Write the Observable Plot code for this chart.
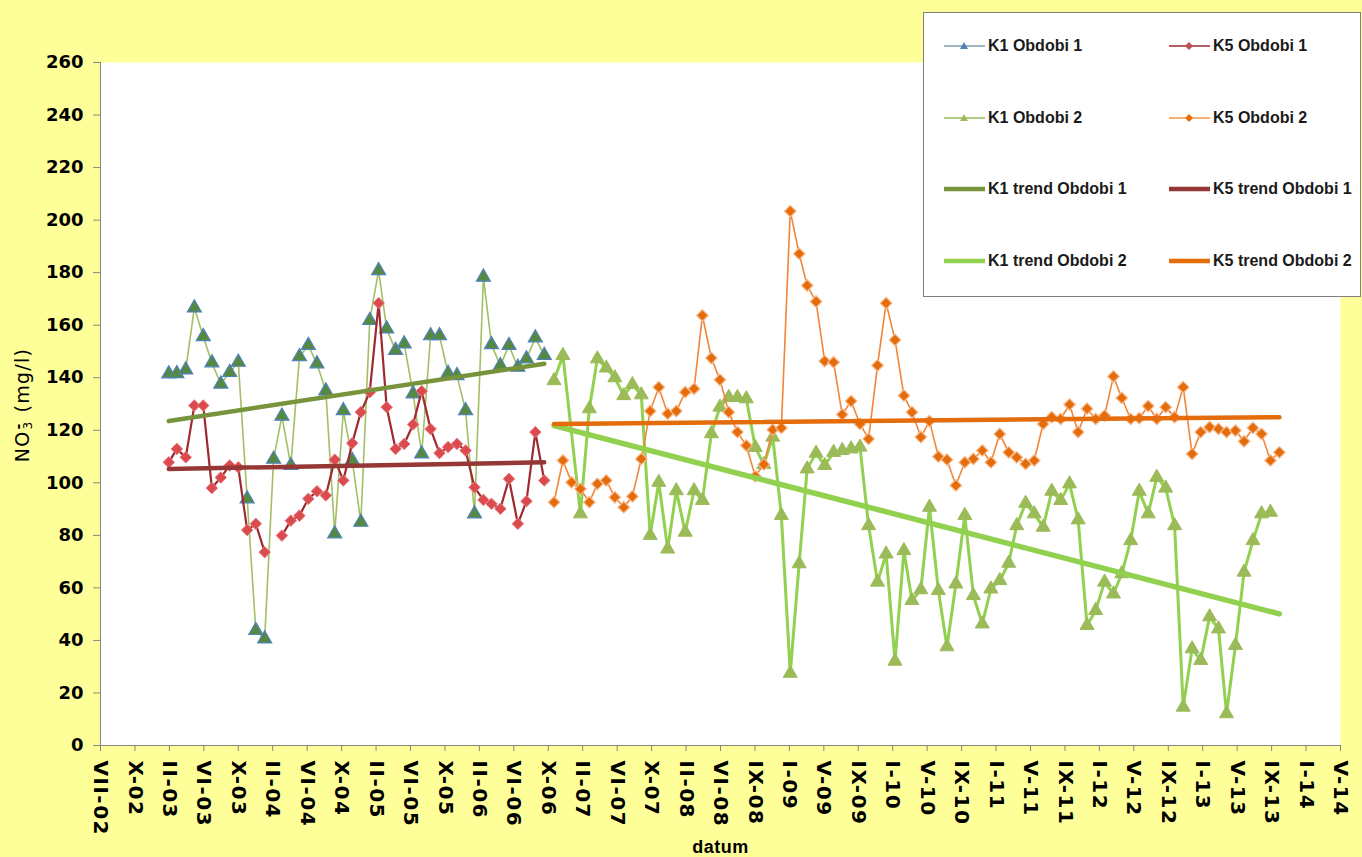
<!DOCTYPE html>
<html>
<head>
<meta charset="utf-8">
<script src="https://cdn.jsdelivr.net/npm/d3@7"></script>
<script src="https://cdn.jsdelivr.net/npm/@observablehq/plot@0.6"></script>
<style>
  html, body { margin: 0; padding: 0; background: #FFFF99; }
  #wrap { position: relative; width: 1362px; height: 857px; overflow: hidden; }
  #chart svg { display: block; }
  #chart svg g[aria-label="y-axis tick label"], #chart svg g[aria-label="y-axis tick label"] text { font: bold 18px "DejaVu Sans", sans-serif !important; fill: #000 !important; }
  #chart svg g[aria-label="x-axis tick label"], #chart svg g[aria-label="x-axis tick label"] text { font: bold 20px "DejaVu Sans", sans-serif !important; letter-spacing: 1.5px; fill: #000 !important; }
  #chart svg g[aria-label="x-axis label"], #chart svg g[aria-label="x-axis label"] text { font: bold 18px "Liberation Sans", sans-serif !important; letter-spacing: 0.5px; fill: #000 !important; }
  #ylabel { position: absolute; left: 22px; top: 405px; transform: translate(-50%, -50%) rotate(-90deg);
            font: 19px "DejaVu Sans", sans-serif; letter-spacing: 1.3px; white-space: nowrap; color: #000; }
  #ylabel .ss { display: inline-flex; flex-direction: column; align-items: flex-start; font-size: 12px; line-height: 10px; vertical-align: middle; letter-spacing: 0; margin: 0 2px 0 1px; }
  #ylabel .ss b { font-weight: bold; font-size: 14px; line-height: 9px; }
  #legend { position: absolute; left: 923px; top: 12px; width: 438px; height: 285px; box-sizing: border-box;
            background: #fff; border: 1px solid #7f7f7f; font: bold 16px "Liberation Sans", Arial, sans-serif; color: #1a1a1a; }
  .item { position: absolute; display: flex; align-items: center; height: 20px; white-space: nowrap; }
  .item svg { display: block; margin-right: 3px; }
</style>
</head>
<body>
<div id="wrap">
  <div id="chart"></div>
  <div id="ylabel">NO<span class="ss"><b>-</b><span>3</span></span> (mg/l)</div>
  <div id="legend"></div>
</div>
<script>
// ---------- data ----------
const tickLabels = ["VII-02","X-02","II-03","VI-03","X-03","II-04","VI-04","X-04","II-05","VI-05","X-05","II-06","VI-06","X-06","II-07","VI-07","X-07","II-08","VI-08","IX-08","I-09","V-09","IX-09","I-10","V-10","IX-10","I-11","V-11","IX-11","I-12","V-12","IX-12","I-13","V-13","IX-13","I-14","V-14"];
const axisStart = "2002-07-01";
const tickStepDays = 120;
const yTickValues = [0, 20, 40, 60, 80, 100, 120, 140, 160, 180, 200, 220, 240, 260];

const period1Start = "2003-02-24";   // monthly samples
const period2Start = "2006-10-28";   // monthly samples

const k1Obdobi1 = [141.5, 141.6, 143, 166.6, 155.7, 145.7, 137.6, 142, 145.9, 93.9,
  43.8, 40.6, 109, 125.4, 106.6, 148, 152.3, 145.3, 135, 80.6,
  127.5, 108.5, 85, 161.8, 180.8, 158.6, 150.4, 152.9, 133.9, 111,
  156, 156, 141.7, 140.8, 127.5, 88.2, 178.3, 152.6, 144.6, 152.3,
  144, 147.2, 155.2, 148.5];

const k5Obdobi1 = [107.8, 112.9, 109.7, 129.4, 129.4, 98, 102, 106.6, 105.9, 82,
  84.4, 73.6, null, 79.9, 85.6, 87.5, 93.9, 96.8, 95.2, 108.8,
  100.9, 115.1, 126.9, 134.5, 168.4, 128.8, 112.9, 114.8, 122.2, 134.9,
  120.5, 111.3, 113.6, 114.8, 112.3, 98.3, 93.5, 92, 90.1, 101.5,
  84.4, 93, 119.3, 100.9];

const k1Obdobi2 = [138.9, 148.5, null, 88.2, 128.2, 147.2, 143.7, 140, 133.2, 137.4,
  133.5, 80, 100.2, 74.8, 97, 81.2, 97, 93.3, 118.7, 128.8,
  132.5, 132.5, 132, 113.5, 107, 117.4, 87.6, 27.5, 69.2, 105.3,
  111.3, 106.6, 111.6, 112.3, 112.9, 113.6, 83.7, 62.2, 72.9, 32.1,
  74.2, 55.2, 59.3, 90.7, 59, 37.6, 61.5, 87.6, 57.1, 46.3,
  59.6, 62.8, 69.4, 83.7, 92.2, 88.2, 83.1, 96.8, 93.3, 99.6,
  85.9, 45.7, 51.4, 62.2, 57.7, 65.4, 78, 96.8, 88.2, 102.1,
  98, 83.7, 14.6, 36.8, 32.4, 49, 44.4, 12.1, 38.1, 66,
  78, 88.2, 88.8, null];

const k5Obdobi2 = [92.6, 108.5, 100.2, 97.7, 92.6, 99.6, 100.9, 94.5, 90.7, 94.8,
  109.1, 127.3, 136.4, 126.3, 127.3, 134.5, 135.8, 163.7, 147.5, 139.2,
  126.9, 119.3, 114.2, 102.5, 107, 120.2, 120.9, 203.4, 187.2, 175.1,
  169, 146.3, 145.9, 126, 131.1, 122.4, 116.7, 144.7, 168.4, 154.4,
  133.2, 126.9, 117.4, 123.5, 110, 108.8, 99, 107.8, 109.1, 112.3,
  107.8, 118.6, 111.6, 109.7, 107.2, 108.5, 122.4, 125, 124.3, 129.8,
  119.3, 128.2, 124.3, 125.6, 140.5, 132.3, 124.3, 124.6, 129.2, 124.3,
  128.8, 125, 136.4, 111, 119.3, 121.2, 120.5, 119.3, 119.9, 115.8,
  120.9, 118.6, 108.5, 111.6];

// trend lines: value at the first and at the last sample of the period
const k1TrendObdobi1 = [123.5, 145.3];
const k5TrendObdobi1 = [105.3, 107.8];
const k1TrendObdobi2 = [121.8, 50.1];
const k5TrendObdobi2 = [122.4, 125.0];

// ---------- build tables ----------
const t0 = new Date(axisStart);
const tickDates = tickLabels.map((_, i) => d3.utcDay.offset(t0, i * tickStepDays));
const labelByTime = new Map(tickDates.map((d, i) => [+d, tickLabels[i]]));

function series(start, values) {
  const s = new Date(start);
  return values.map((v, i) => ({date: d3.utcMonth.offset(s, i), value: v}));
}
function trend(start, n, ends) {
  const s = new Date(start);
  return [{date: s, value: ends[0]}, {date: d3.utcMonth.offset(s, n - 1), value: ends[1]}];
}
const s1 = series(period1Start, k1Obdobi1);
const s2 = series(period1Start, k5Obdobi1);
const s3 = series(period2Start, k1Obdobi2);
const s4 = series(period2Start, k5Obdobi2);
const tr1 = trend(period1Start, k1Obdobi1.length, k1TrendObdobi1);
const tr2 = trend(period1Start, k5Obdobi1.length, k5TrendObdobi1);
const tr3 = trend(period2Start, k1Obdobi2.length, k1TrendObdobi2);
const tr4 = trend(period2Start, k5Obdobi2.length, k5TrendObdobi2);
const ok = d => d.value != null;

const C = {
  k1o1Line: "#A3BF66", k1o1Fill: "#55893F", k1o1Stroke: "#4F81BD",
  k5o1Line: "#9E2A2F", k5o1Fill: "#DB4A4E", k5o1Stroke: "#E77E80",
  k1o2Line: "#92D050", k1o2Fill: "#9BBB59", k1o2Stroke: "#9BBB59",
  k5o2Line: "#F0863A", k5o2Fill: "#E46C0A", k5o2Stroke: "#F9B88A",
  tr1: "#77933C", tr2: "#953735", tr3: "#92D050", tr4: "#E46C0A"
};

const chart = Plot.plot({
  width: 1362,
  height: 857,
  marginLeft: 100,
  marginRight: 22,
  marginTop: 62,
  marginBottom: 112,
  style: {background: "#FFFF99", overflow: "visible"},
  x: {type: "utc", domain: [tickDates[0], tickDates[tickDates.length - 1]]},
  y: {domain: [0, 260]},
  marks: [
    Plot.frame({fill: "white", stroke: null}),
    Plot.axisY({ticks: yTickValues, tickSize: 7, tickPadding: 10, stroke: "#868686", label: null}),
    Plot.axisX({ticks: tickDates, tickFormat: d => labelByTime.get(+d), tickRotate: 90,
      tickSize: 6, tickPadding: 9, stroke: "#868686", fontSize: 18,
      label: "datum", labelAnchor: "center", labelOffset: 107, labelArrow: "none"}),
    Plot.ruleY([0], {stroke: "#868686"}),
    Plot.ruleX([tickDates[0]], {stroke: "#868686"}),

    Plot.line(s1, {x: "date", y: "value", stroke: C.k1o1Line, strokeWidth: 1.6}),
    Plot.dot(s1.filter(ok), {x: "date", y: "value", symbol: "triangle", r: 5.2, fill: C.k1o1Fill, stroke: C.k1o1Stroke, strokeWidth: 1.2}),
    Plot.line(s2, {x: "date", y: "value", stroke: C.k5o1Line, strokeWidth: 2.2}),
    Plot.dot(s2.filter(ok), {x: "date", y: "value", symbol: "diamond2", r: 5.2, fill: C.k5o1Fill, stroke: C.k5o1Stroke, strokeWidth: 1}),
    Plot.line(s3.filter(ok), {x: "date", y: "value", stroke: C.k1o2Line, strokeWidth: 3}),
    Plot.dot(s3.filter(ok), {x: "date", y: "value", symbol: "triangle", r: 5.2, fill: C.k1o2Fill, stroke: C.k1o2Stroke, strokeWidth: 1}),
    Plot.line(s4, {x: "date", y: "value", stroke: C.k5o2Line, strokeWidth: 1.6}),
    Plot.dot(s4.filter(ok), {x: "date", y: "value", symbol: "diamond2", r: 5.2, fill: C.k5o2Fill, stroke: C.k5o2Stroke, strokeWidth: 1.2}),

    Plot.line(tr1, {x: "date", y: "value", stroke: C.tr1, strokeWidth: 4.5}),
    Plot.line(tr2, {x: "date", y: "value", stroke: C.tr2, strokeWidth: 4.5}),
    Plot.line(tr3, {x: "date", y: "value", stroke: C.tr3, strokeWidth: 5.5}),
    Plot.line(tr4, {x: "date", y: "value", stroke: C.tr4, strokeWidth: 4.5})
  ]
});
document.getElementById("chart").appendChild(chart);

// ---------- legend ----------
const legendItems = [
  {label: "K1 Obdobi 1", col: 0, row: 0, line: "#7F9DB0", w: 1.5, marker: "triangle", mfill: "#4F81BD"},
  {label: "K5 Obdobi 1", col: 1, row: 0, line: "#9E2A2F", w: 1.5, marker: "diamond", mfill: "#C0504D"},
  {label: "K1 Obdobi 2", col: 0, row: 1, line: "#9BBB59", w: 1.5, marker: "triangle", mfill: "#9BBB59"},
  {label: "K5 Obdobi 2", col: 1, row: 1, line: "#F79646", w: 1.5, marker: "diamond", mfill: "#E46C0A"},
  {label: "K1 trend Obdobi 1", col: 0, row: 2, line: C.tr1, w: 4.5},
  {label: "K5 trend Obdobi 1", col: 1, row: 2, line: C.tr2, w: 4.5},
  {label: "K1 trend Obdobi 2", col: 0, row: 3, line: C.tr3, w: 4.5},
  {label: "K5 trend Obdobi 2", col: 1, row: 3, line: C.tr4, w: 4.5}
];
const colX = [20, 245];
const rowY = [23, 95, 166, 238];
const legend = document.getElementById("legend");
for (const it of legendItems) {
  const div = document.createElement("div");
  div.className = "item";
  div.style.left = colX[it.col] + "px";
  div.style.top = rowY[it.row] + "px";
  let mk = "";
  if (it.marker === "triangle") mk = `<path d="M20,6 L24,13 L16,13 Z" fill="${it.mfill}"/>`;
  if (it.marker === "diamond") mk = `<path d="M20,6 L24,10 L20,14 L16,10 Z" fill="${it.mfill}"/>`;
  div.innerHTML = `<svg width="41" height="20"><line x1="0" x2="41" y1="10" y2="10" stroke="${it.line}" stroke-width="${it.w}"/>${mk}</svg><span>${it.label}</span>`;
  legend.appendChild(div);
}
</script>
</body>
</html>
